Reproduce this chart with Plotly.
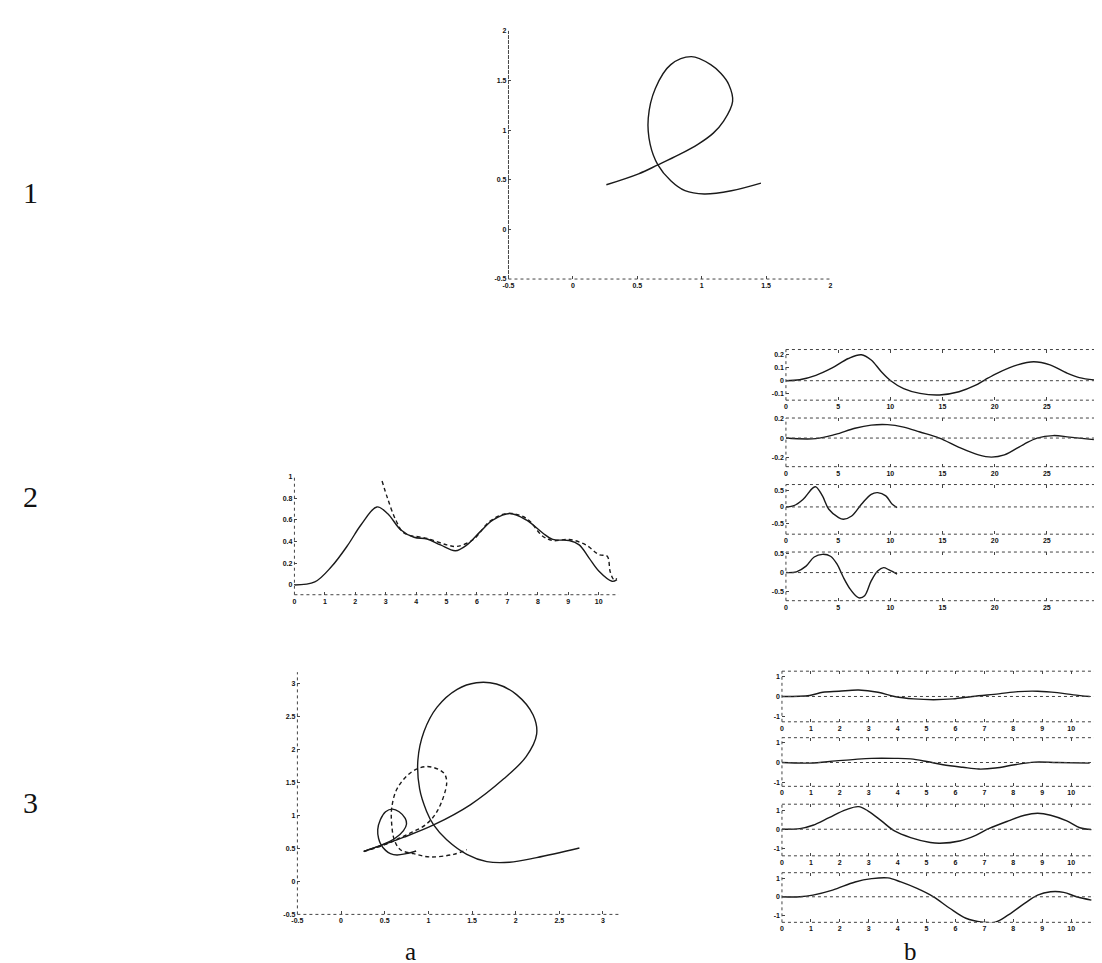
import plotly.graph_objects as go

W, H = 1102, 963

# ---------------- data ----------------
# Panel 1: handwritten "e" trajectory
p1_x = [0.26, 0.51, 0.66, 0.82, 0.97, 1.09, 1.17, 1.24, 1.21, 1.15, 1.07, 0.92, 0.76, 0.64, 0.585, 0.60, 0.66, 0.76, 0.87, 1.02, 1.23, 1.46]
p1_y = [0.45, 0.56, 0.65, 0.75, 0.857, 0.97, 1.09, 1.29, 1.46, 1.57, 1.66, 1.74, 1.66, 1.42, 1.12, 0.857, 0.65, 0.49, 0.39, 0.357, 0.39, 0.467]

# Panel 2a: solid and dashed curves
a2_sx = [0, 0.67, 1.22, 1.76, 2.19, 2.71, 3.06, 3.49, 3.93, 4.36, 4.80, 5.29, 5.67, 6.10, 6.53, 7.08, 7.62, 8.16, 8.49, 9.03, 9.36, 9.68, 10.01, 10.44, 10.6]
a2_sy = [0, 0.028, 0.17, 0.37, 0.556, 0.72, 0.66, 0.51, 0.44, 0.424, 0.37, 0.316, 0.37, 0.49, 0.60, 0.66, 0.60, 0.48, 0.42, 0.41, 0.37, 0.25, 0.126, 0.034, 0.05]
a2_dx = [2.88, 3.06, 3.33, 3.60, 4.36, 5.01, 5.34, 5.88, 6.42, 7.0, 7.62, 8.16, 8.49, 9.03, 9.58, 10.01, 10.28, 10.38, 10.5, 10.6]
a2_dy = [0.96, 0.80, 0.60, 0.48, 0.43, 0.37, 0.356, 0.42, 0.587, 0.66, 0.615, 0.45, 0.41, 0.42, 0.37, 0.28, 0.265, 0.12, 0.05, 0.06]

# Panel 3a: big solid, small solid, dashed
a3_bx = [0.26, 0.72, 1.06, 1.48, 1.86, 2.12, 2.24, 2.20, 2.01, 1.78, 1.55, 1.33, 1.10, 0.95, 0.88, 0.90, 0.98, 1.06, 1.21, 1.44, 1.67, 1.93, 2.24, 2.73]
a3_by = [0.455, 0.67, 0.855, 1.16, 1.55, 1.89, 2.23, 2.52, 2.83, 2.99, 3.01, 2.91, 2.64, 2.27, 1.84, 1.40, 1.06, 0.855, 0.63, 0.41, 0.30, 0.29, 0.36, 0.505]
a3_sx = [0.26, 0.46, 0.615, 0.715, 0.75, 0.735, 0.665, 0.59, 0.51, 0.45, 0.42, 0.43, 0.46, 0.51, 0.565, 0.64, 0.745, 0.86]
a3_sy = [0.455, 0.55, 0.65, 0.77, 0.87, 0.955, 1.055, 1.095, 1.055, 0.935, 0.785, 0.65, 0.55, 0.47, 0.42, 0.40, 0.42, 0.46]
a3_dx = [0.26, 0.51, 0.66, 0.82, 0.97, 1.10, 1.21, 1.17, 0.98, 0.80, 0.64, 0.58, 0.58, 0.61, 0.68, 0.83, 1.02, 1.29, 1.44]
a3_dy = [0.45, 0.56, 0.65, 0.75, 0.86, 1.06, 1.50, 1.65, 1.74, 1.65, 1.40, 1.11, 0.87, 0.63, 0.48, 0.42, 0.37, 0.41, 0.48]

# Panel 2b: four component signals (x 0..30)
b2_1x = [0, 1.31, 2.87, 4.43, 5.98, 7.23, 8.17, 9.10, 10.04, 11.28, 12.84, 14.71, 16.58, 18.13, 19.07, 20.32, 22.19, 23.74, 25.30, 26.86, 28.10, 29.66]
b2_1y = [0, 0.007, 0.041, 0.098, 0.171, 0.2, 0.159, 0.073, 0, -0.061, -0.098, -0.11, -0.085, -0.037, 0.007, 0.061, 0.122, 0.146, 0.122, 0.061, 0.024, 0.005]
b2_2x = [0, 2.87, 4.74, 6.61, 8.17, 9.72, 11.28, 12.84, 14.71, 16.58, 18.45, 19.69, 20.93, 22.80, 24.06, 25.61, 27.17, 29.5]
b2_2y = [0, -0.006, 0.038, 0.103, 0.136, 0.141, 0.115, 0.064, 0, -0.097, -0.177, -0.2, -0.177, -0.065, 0, 0.026, 0.01, -0.016]
b2_3x = [0, 0.69, 1.63, 2.56, 2.87, 3.50, 4.11, 5.05, 5.51, 6.30, 7.23, 8.17, 8.79, 9.57, 10.19, 10.65]
b2_3y = [0, 0.03, 0.23, 0.58, 0.62, 0.34, -0.07, -0.33, -0.38, -0.28, 0.08, 0.39, 0.44, 0.34, 0.08, -0.02]
b2_4x = [0, 1.0, 1.93, 2.71, 3.50, 4.27, 4.90, 5.51, 6.14, 6.77, 7.07, 7.54, 8.17, 8.79, 9.35, 9.88, 10.65]
b2_4y = [0, 0.02, 0.17, 0.41, 0.48, 0.43, 0.22, -0.13, -0.43, -0.63, -0.67, -0.61, -0.22, 0.04, 0.13, 0.07, -0.04]

# Panel 3b: four component signals (x 0..10.7)
b3_1x = [0, 0.96, 1.41, 1.97, 2.65, 3.32, 3.89, 4.56, 5.24, 5.91, 6.59, 7.49, 8.17, 8.84, 9.52, 10.08, 10.64]
b3_1y = [0, 0.05, 0.21, 0.26, 0.32, 0.21, 0, -0.12, -0.16, -0.12, 0, 0.13, 0.24, 0.26, 0.19, 0.08, 0]
b3_2x = [0, 0.96, 1.86, 2.53, 3.10, 3.89, 4.45, 5.01, 5.57, 6.25, 6.81, 7.38, 8.05, 8.73, 9.52, 10.64]
b3_2y = [0, -0.03, 0.08, 0.16, 0.21, 0.21, 0.18, 0.05, -0.11, -0.24, -0.33, -0.28, -0.11, 0.02, 0, -0.03]
b3_3x = [0, 0.62, 1.07, 1.63, 2.20, 2.65, 2.98, 3.44, 3.89, 4.45, 5.13, 5.46, 6.14, 6.70, 7.15, 7.83, 8.39, 8.84, 9.29, 9.85, 10.30, 10.70]
b3_3y = [0, 0.03, 0.21, 0.61, 1.02, 1.19, 0.96, 0.44, -0.09, -0.44, -0.70, -0.74, -0.62, -0.32, 0.03, 0.44, 0.74, 0.84, 0.74, 0.44, 0.08, -0.02]
b3_4x = [0, 0.62, 1.07, 1.75, 2.53, 3.10, 3.66, 4.11, 4.67, 5.24, 5.80, 6.36, 6.93, 7.38, 7.83, 8.39, 8.84, 9.29, 9.74, 10.19, 10.70]
b3_4y = [0, 0, 0.09, 0.36, 0.80, 0.98, 1.02, 0.80, 0.45, 0, -0.62, -1.16, -1.37, -1.37, -0.98, -0.36, 0.09, 0.27, 0.24, 0, -0.18]

# tick labels
p1_ticks = [-0.5, 0, 0.5, 1, 1.5, 2]
p1_ticktext = ["-0.5", "0", "0.5", "1", "1.5", "2"]
a2_xticks = list(range(0, 11))
a2_yticks = [0, 0.2, 0.4, 0.6, 0.8, 1]
a2_yticktext = ["0", "0.2", "0.4", "0.6", "0.8", "1"]
a3_xticks = [-0.5, 0, 0.5, 1, 1.5, 2, 2.5, 3]
a3_xticktext = ["-0.5", "0", "0.5", "1", "1.5", "2", "2.5", "3"]
a3_yticks = [-0.5, 0, 0.5, 1, 1.5, 2, 2.5, 3]
a3_yticktext = ["-0.5", "0", "0.5", "1", "1.5", "2", "2.5", "3"]
b2_xticks = [0, 5, 10, 15, 20, 25, 30]
b3_xticks = list(range(0, 12))

# ---------------- layout helpers ----------------
fig = go.Figure()
INK = "#1a1a1a"
AX = "#444444"
TICKFONT = dict(family="Liberation Sans, Arial, sans-serif", size=7, color="#111", weight="bold")


def dom_x(p0, p1):
    return [p0 / W, p1 / W]


def dom_y(top, bottom):
    return [1 - bottom / H, 1 - top / H]


panels = []  # (index, xdomain, ydomain, xrange, yrange, xticks, xtext, yticks, ytext, boxed)
panels.append((1, dom_x(499, 824), dom_y(19, 269), [-0.5, 2], [-0.5, 2], p1_ticks, p1_ticktext, p1_ticks, p1_ticktext, False))
panels.append((2, dom_x(283, 610), dom_y(468, 587), [0, 10.65], [-0.09, 1.0], a2_xticks, [str(v) for v in a2_xticks], a2_yticks, a2_yticktext, False))
panels.append((3, dom_x(286, 612), dom_y(665, 909), [-0.5, 3.2], [-0.5, 3.17], a3_xticks, a3_xticktext, a3_yticks, a3_yticktext, False))
b2_rows = [(340, 391, [-0.15, 0.24], [0.2, 0.1, 0, -0.1], ["0.2", "0.1", "0", "-0.1"]),
           (409, 458, [-0.30, 0.21], [0.2, 0, -0.2], ["0.2", "0", "-0.2"]),
           (476, 526, [-0.84, 0.69], [0.5, 0, -0.5], ["0.5", "0", "-0.5"]),
           (544, 593, [-0.74, 0.54], [0.5, 0, -0.5], ["0.5", "0", "-0.5"])]
for k, (t, b, yr, yt, ytt) in enumerate(b2_rows):
    panels.append((4 + k, dom_x(779, 1095), dom_y(t, b), [0, 30], yr, b2_xticks, [str(v) for v in b2_xticks], yt, ytt, True))
b3_rows = [(664, 715, [-1.25, 1.25]),
           (731, 780, [-1.2, 1.25]),
           (798, 850, [-1.4, 1.32]),
           (867, 917, [-1.38, 1.3])]
for k, (t, b, yr) in enumerate(b3_rows):
    panels.append((8 + k, dom_x(775, 1096), dom_y(t, b), [0, 11], yr, b3_xticks, [str(v) for v in b3_xticks], [1, 0, -1], ["1", "0", "-1"], True))

layout = {}
shapes = []
for (i, xd, yd, xr, yr, xt, xtt, yt, ytt, boxed) in panels:
    sx = "" if i == 1 else str(i)
    layout["xaxis" + sx] = dict(domain=xd, range=xr, anchor="y" + sx, showgrid=False, zeroline=False,
                                showline=False, tickvals=xt, ticktext=xtt, ticks="inside", ticklen=3,
                                tickcolor=AX, tickwidth=1, tickfont=TICKFONT, ticklabelstandoff=1,
                                ticklabeloverflow="allow",
                                mirror="ticks" if boxed else False, fixedrange=True)
    layout["yaxis" + sx] = dict(domain=yd, range=yr, anchor="x" + sx, showgrid=False, zeroline=False,
                                showline=False, tickvals=yt, ticktext=ytt, ticks="inside", ticklen=3,
                                tickcolor=AX, tickwidth=1, tickfont=TICKFONT, ticklabelstandoff=1,
                                ticklabeloverflow="allow",
                                mirror="ticks" if boxed else False, fixedrange=True)
    xref = "x" + sx + " domain"
    yref = "y" + sx + " domain"
    line = dict(color=AX, width=1, dash="dot")
    # bottom and left axis lines
    shapes.append(dict(type="line", xref=xref, yref=yref, x0=0, x1=1, y0=0, y1=0, line=line))
    left_dash = dict(color=AX, width=1, dash="4px,1px") if i == 1 else line
    shapes.append(dict(type="line", xref=xref, yref=yref, x0=0, x1=0, y0=0, y1=1, line=left_dash))
    if boxed:
        shapes.append(dict(type="line", xref=xref, yref=yref, x0=0, x1=1, y0=1, y1=1, line=line))
        shapes.append(dict(type="line", xref=xref, yref=yref, x0=1, x1=1, y0=0, y1=1, line=line))
        shapes.append(dict(type="line", xref=xref, yref="y" + sx, x0=0, x1=1, y0=0, y1=0, line=line))


def add(x, y, i, dash="solid"):
    sx = "" if i == 1 else str(i)
    fig.add_trace(go.Scatter(x=x, y=y, mode="lines", xaxis="x" + sx, yaxis="y" + sx,
                             line=dict(color=INK, width=1.4, dash=dash, shape="spline", smoothing=1.0),
                             showlegend=False, hoverinfo="skip"))


add(p1_x, p1_y, 1)
add(a2_sx, a2_sy, 2)
add(a2_dx, a2_dy, 2, dash="4px,3px")
add(a3_bx, a3_by, 3)
add(a3_sx, a3_sy, 3)
add(a3_dx, a3_dy, 3, dash="4px,3px")
add(b2_1x, b2_1y, 4)
add(b2_2x, b2_2y, 5)
add(b2_3x, b2_3y, 6)
add(b2_4x, b2_4y, 7)
add(b3_1x, b3_1y, 8)
add(b3_2x, b3_2y, 9)
add(b3_3x, b3_3y, 10)
add(b3_4x, b3_4y, 11)

SERIF = "Liberation Serif, Times New Roman, serif"
annotations = []
for txt, px, py in [("1", 17, 182), ("2", 17, 488), ("3", 17, 796)]:
    annotations.append(dict(text=txt, x=px / W, y=1 - py / H, xref="paper", yref="paper",
                            showarrow=False, xanchor="center", yanchor="middle",
                            font=dict(family=SERIF, size=30, color="#111")))
for txt, px in [("a", 400), ("b", 905)]:
    annotations.append(dict(text=txt, x=px / W, y=1 - 946 / H, xref="paper", yref="paper",
                            showarrow=False, xanchor="center", yanchor="middle",
                            font=dict(family=SERIF, size=25, color="#111")))

fig.update_layout(width=W, height=H, margin=dict(l=0, r=0, t=0, b=0),
                  paper_bgcolor="white", plot_bgcolor="white", shapes=shapes,
                  annotations=annotations, showlegend=False, **layout)

fig.write_html("out.html")
